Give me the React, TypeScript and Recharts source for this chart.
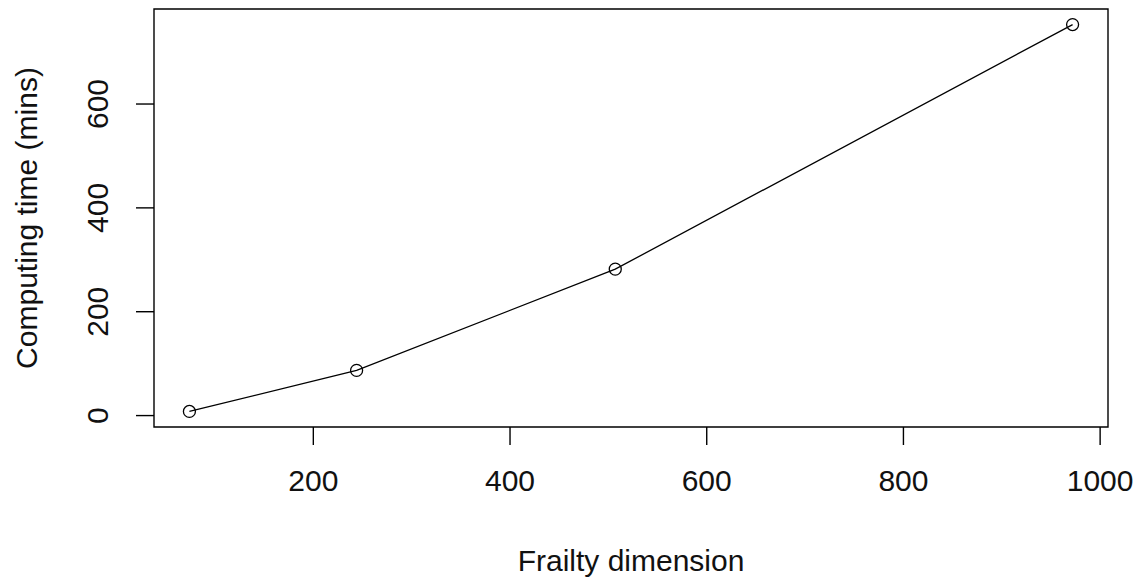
import { LineChart, Line, XAxis, YAxis, ReferenceArea } from "recharts";

// values
const frailtyDim = [74, 244, 507, 972];
const computeMins = [8, 87, 282, 753];
const xTicks = [200, 400, 600, 800, 1000];
const yTicks = [0, 200, 400, 600];

const xDomain: [number, number] = [38, 1008];
const yDomain: [number, number] = [-22, 783];

const FONT = "'Liberation Sans', Arial, sans-serif";
const FS = 30;
const INK = "#000";

const data = frailtyDim.map((d, i) => ({ dim: d, mins: computeMins[i] }));

const XTick = (props: any) => {
  const { x, payload } = props;
  return (
    <text x={x} y={470} dy="0.71em" textAnchor="middle" fontFamily={FONT} fontSize={FS} fill="#111">
      {payload.value}
    </text>
  );
};

const YTick = (props: any) => {
  const { y, payload } = props;
  return (
    <g transform={`translate(97.5, ${y}) rotate(-90)`}>
      <text x={0} y={0} dy="0.36em" textAnchor="middle" fontFamily={FONT} fontSize={FS} fill="#111">
        {payload.value}
      </text>
    </g>
  );
};

export default function App() {
  return (
    <div style={{ position: "absolute", left: 0, top: 0, width: 1137, height: 577, background: "#fff" }}>
      <LineChart width={1137} height={577} data={data} margin={{ top: 9, right: 29, left: 0, bottom: 0 }}>
        <XAxis
          dataKey="dim"
          type="number"
          domain={xDomain}
          ticks={xTicks}
          allowDataOverflow
          height={150}
          axisLine={false}
          tickLine={{ stroke: INK, strokeWidth: 1.4 }}
          tickSize={18}
          tick={<XTick />}
          interval={0}
        />
        <YAxis
          dataKey="mins"
          type="number"
          domain={yDomain}
          ticks={yTicks}
          allowDataOverflow
          width={154}
          axisLine={false}
          tickLine={{ stroke: INK, strokeWidth: 1.4 }}
          tickSize={18}
          tick={<YTick />}
          interval={0}
        />
        <ReferenceArea
          x1={xDomain[0]}
          x2={xDomain[1]}
          y1={yDomain[0]}
          y2={yDomain[1]}
          fill="none"
          stroke={INK}
          strokeWidth={1.4}
          ifOverflow="visible"
        />
        <Line
          dataKey="mins"
          stroke={INK}
          strokeWidth={1.3}
          dot={{ r: 6, fill: "none", stroke: INK, strokeWidth: 1.3 }}
          isAnimationActive={false}
        />
      </LineChart>
      <svg
        width={1137}
        height={577}
        style={{ position: "absolute", left: 0, top: 0, pointerEvents: "none" }}
      >
        <text x={631} y={560} dy="0.36em" textAnchor="middle" fontFamily={FONT} fontSize={FS} fill="#111">
          Frailty dimension
        </text>
        <g transform="translate(26.5, 218) rotate(-90)">
          <text x={0} y={0} dy="0.36em" textAnchor="middle" fontFamily={FONT} fontSize={FS} fill="#111">
            Computing time (mins)
          </text>
        </g>
      </svg>
    </div>
  );
}
